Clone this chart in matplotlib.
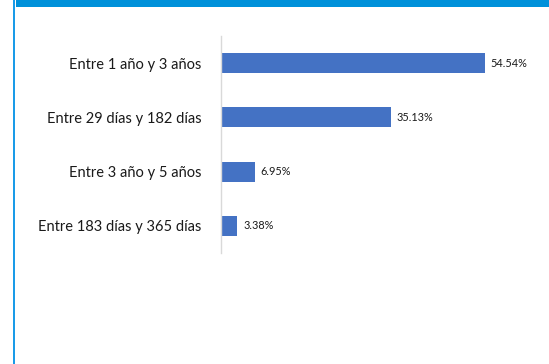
import matplotlib.pyplot as plt
from matplotlib.patches import Rectangle

categorias = ["Entre 1 año y 3 años", "Entre 29 días y 182 días",
              "Entre 3 año y 5 años", "Entre 183 días y 365 días"]
porcentajes = [54.54, 35.13, 6.95, 3.38]

W, H = 549, 364
fig = plt.figure(figsize=(W / 100, H / 100), dpi=100)
fig.patch.set_facecolor("white")

# marco azul: franja superior y borde izquierdo
fig.add_artist(Rectangle((16 / W, 1 - 7 / H), 1, 7 / H, transform=fig.transFigure,
                         color="#0091da", lw=0))
fig.add_artist(Rectangle((13 / W, 0), 2.2 / W, 1, transform=fig.transFigure,
                         color="#1a9be8", lw=0))

ax = fig.add_axes([221 / W, 1 - 253 / H, 290 / W, 217 / H])
y = list(range(len(categorias)))
ax.barh(y, porcentajes, height=0.37, color="#4472c4")
ax.set_xlim(0, 60)
ax.set_ylim(len(categorias) - 0.5, -0.5)

for yi, v in zip(y, porcentajes):
    ax.text(v + 1.2, yi, f"{v:.2f}%", va="center", ha="left",
            fontsize=7.8, family="Lato", color="#1a1a1a")

ax.set_yticks(y)
ax.set_yticklabels(categorias, fontsize=10.5, family="Lato", color="#1a1a1a")
ax.tick_params(axis="y", length=0, pad=14)
ax.set_xticks([])
for s in ["top", "right", "bottom"]:
    ax.spines[s].set_visible(False)
ax.spines["left"].set_color("#d9d9d9")
ax.spines["left"].set_linewidth(1)

fig.savefig("out.png", dpi=100)
